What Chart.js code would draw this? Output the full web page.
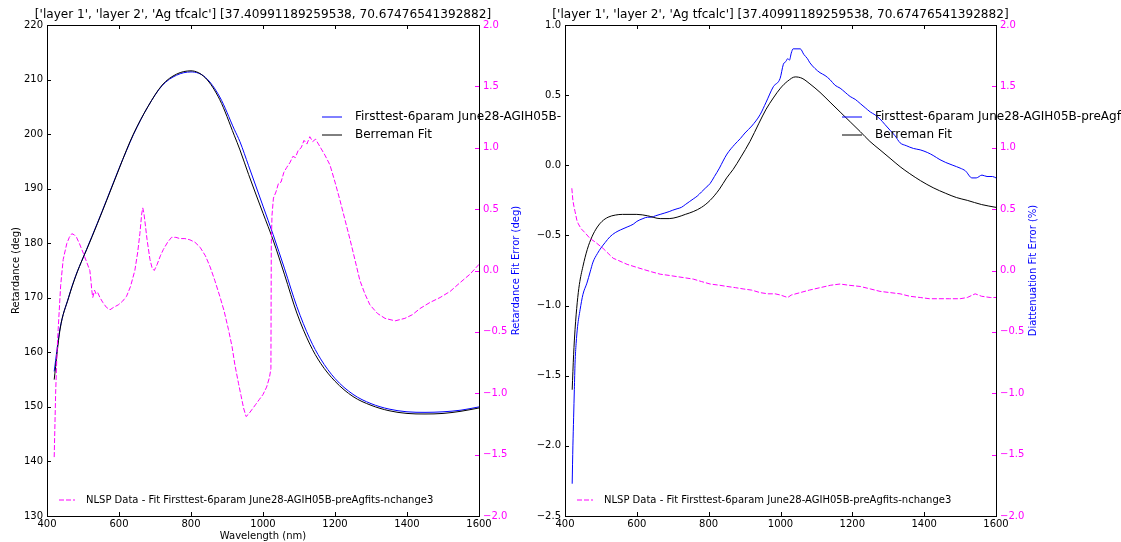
<!DOCTYPE html>
<html>
<head>
<meta charset="utf-8">
<script src="https://cdn.jsdelivr.net/npm/chart.js"></script>
<style>
  body { margin: 0; background: #fff; }
  #wrap { position: relative; width: 1121px; height: 542px; background: #fff; overflow: hidden; }
  canvas { position: absolute; top: 0; }
</style>
</head>
<body>
<div id="wrap">
  <canvas id="leftChart" width="562" height="542" style="left:0px"></canvas>
  <canvas id="rightChart" width="601" height="542" style="left:520px"></canvas>
</div>
<script>
// ---- data ----
const titleText = "['layer 1', 'layer 2', 'Ag tfcalc'] [37.40991189259538, 70.67476541392882]";
const dataLabelL = "Firsttest-6param June28-AGIH05B-preAgfits-nchange3";
const dataLabelR = "Firsttest-6param June28-AGIH05B-preAgfits-nchange3";
const fitLabel = "Berreman Fit";
const errLabel = "NLSP Data - Fit Firsttest-6param June28-AGIH05B-preAgfits-nchange3";

const xTicks = [400, 600, 800, 1000, 1200, 1400, 1600];

// left: retardance (deg)
const retWl = [420, 436, 460, 480, 500, 510, 540, 566, 600, 621, 640, 680, 720, 760, 800, 840, 880, 920, 936, 960, 1000, 1028, 1060, 1094, 1130, 1160, 1200, 1250, 1300, 1350, 1400, 1450, 1500, 1550, 1600];
const retFit = [155.0, 164.1, 170.0, 174.0, 177.3, 178.8, 183.6, 187.9, 193.6, 197.1, 200.0, 205.0, 209.0, 211.0, 211.6, 210.3, 206.3, 199.8, 197.1, 192.6, 185.5, 180.6, 174.2, 167.2, 161.5, 158.0, 154.7, 151.9, 150.3, 149.3, 148.8, 148.7, 148.8, 149.2, 149.8];
const retData = [156.5, 164.3, 170.1, 174.1, 177.3, 178.9, 183.7, 188.0, 193.7, 197.0, 199.9, 205.0, 208.9, 210.8, 211.4, 210.4, 206.8, 200.9, 198.6, 194.2, 186.8, 181.6, 175.3, 168.4, 162.5, 158.8, 155.2, 152.3, 150.6, 149.6, 149.1, 149.0, 149.1, 149.4, 150.0];

const retErrWl = [420, 424, 428, 431, 438, 445, 455, 462, 469, 476, 482, 490, 501, 510, 519, 522, 524, 527, 529, 532, 536, 541, 547, 555, 565, 575, 585, 598, 610, 621, 632, 644, 652, 658, 663, 666, 669, 672, 678, 686, 692, 698, 706, 715, 723, 735, 746, 758, 769, 783, 797, 811, 825, 840, 853, 866, 880, 892, 904, 914, 922, 932, 939, 946, 953, 960, 970, 980, 990, 1000, 1010, 1018, 1022, 1023, 1025, 1029, 1036, 1043, 1050, 1058, 1066, 1075, 1083, 1090, 1098, 1106, 1114, 1122, 1130, 1138, 1146, 1154, 1162, 1172, 1186, 1200, 1214, 1228, 1242, 1256, 1269, 1283, 1297, 1318, 1339, 1367, 1394, 1415, 1436, 1464, 1492, 1520, 1547, 1575, 1600];
const retErr = [-1.52, -1.0, -0.65, -0.48, -0.12, 0.09, 0.22, 0.27, 0.30, 0.29, 0.27, 0.22, 0.14, 0.07, 0.0, -0.08, -0.15, -0.22, -0.20, -0.16, -0.19, -0.18, -0.22, -0.26, -0.30, -0.32, -0.30, -0.28, -0.25, -0.21, -0.13, 0.0, 0.15, 0.30, 0.46, 0.51, 0.47, 0.40, 0.25, 0.09, 0.02, 0.0, 0.05, 0.12, 0.17, 0.23, 0.27, 0.27, 0.26, 0.26, 0.25, 0.23, 0.19, 0.12, 0.03, -0.08, -0.21, -0.33, -0.48, -0.62, -0.77, -0.92, -1.02, -1.12, -1.19, -1.17, -1.13, -1.09, -1.05, -1.01, -0.95, -0.87, -0.80, 0.20, 0.45, 0.59, 0.64, 0.71, 0.72, 0.80, 0.84, 0.88, 0.93, 0.92, 0.98, 1.00, 1.06, 1.03, 1.09, 1.05, 1.07, 1.03, 0.99, 0.94, 0.86, 0.72, 0.57, 0.41, 0.25, 0.08, -0.08, -0.19, -0.28, -0.35, -0.39, -0.41, -0.39, -0.36, -0.31, -0.26, -0.22, -0.17, -0.10, -0.03, 0.05];

// right: diattenuation
const diaWl = [420, 422, 424, 426, 428, 431, 435, 442, 450, 461, 470, 478, 490, 500, 512, 525, 540, 555, 573, 590, 600, 617, 630, 640, 652, 665, 678, 690, 700, 712, 724, 735, 746, 757, 768, 780, 792, 804, 816, 830, 840, 851, 873, 888, 901, 920, 943, 960, 980, 999, 1008, 1015, 1020, 1025, 1030, 1035, 1055, 1065, 1075, 1082, 1096, 1110, 1124, 1138, 1152, 1166, 1180, 1194, 1208, 1222, 1236, 1250, 1263, 1277, 1291, 1305, 1319, 1333, 1350, 1370, 1389, 1410, 1425, 1444, 1460, 1480, 1500, 1515, 1533, 1545, 1561, 1575, 1590, 1600];
const diaData = [-2.27, -2.0, -1.80, -1.6, -1.41, -1.27, -1.15, -1.03, -0.92, -0.84, -0.76, -0.69, -0.63, -0.59, -0.55, -0.51, -0.48, -0.46, -0.44, -0.42, -0.40, -0.38, -0.37, -0.37, -0.36, -0.35, -0.34, -0.33, -0.32, -0.31, -0.30, -0.28, -0.26, -0.24, -0.22, -0.19, -0.16, -0.13, -0.08, -0.02, 0.03, 0.08, 0.15, 0.19, 0.23, 0.28, 0.36, 0.45, 0.56, 0.62, 0.72, 0.74, 0.76, 0.75, 0.80, 0.83, 0.83, 0.79, 0.76, 0.73, 0.69, 0.66, 0.64, 0.61, 0.57, 0.55, 0.52, 0.49, 0.47, 0.44, 0.41, 0.38, 0.36, 0.33, 0.29, 0.25, 0.21, 0.16, 0.14, 0.12, 0.11, 0.09, 0.07, 0.04, 0.02, 0.00, -0.02, -0.04, -0.09, -0.09, -0.07, -0.08, -0.08, -0.09];

const diaFitWl = [420, 424, 428, 434, 440, 450, 462, 475, 490, 503, 520, 540, 560, 600, 630, 665, 690, 712, 735, 757, 780, 804, 830, 850, 868, 890, 915, 940, 960, 980, 1000, 1020, 1041, 1060, 1082, 1110, 1138, 1166, 1194, 1222, 1249, 1277, 1305, 1333, 1360, 1390, 1425, 1460, 1490, 1520, 1560, 1600];
const diaFit = [-1.60, -1.35, -1.17, -0.98, -0.85, -0.72, -0.60, -0.51, -0.44, -0.40, -0.37, -0.355, -0.35, -0.35, -0.36, -0.38, -0.38, -0.37, -0.35, -0.33, -0.30, -0.25, -0.17, -0.09, -0.03, 0.06, 0.17, 0.30, 0.40, 0.48, 0.55, 0.60, 0.63, 0.62, 0.58, 0.52, 0.45, 0.38, 0.31, 0.24, 0.17, 0.11, 0.05, -0.01, -0.06, -0.11, -0.16, -0.20, -0.23, -0.25, -0.28, -0.30];

const diaErrWl = [419, 422, 425, 428, 433, 437, 445, 455, 470, 485, 506, 520, 534, 550, 573, 595, 617, 640, 665, 690, 712, 735, 757, 780, 804, 830, 851, 875, 896, 920, 943, 965, 985, 1000, 1010, 1020, 1030, 1055, 1080, 1110, 1140, 1166, 1190, 1222, 1250, 1277, 1305, 1333, 1360, 1389, 1415, 1444, 1470, 1500, 1520, 1542, 1560, 1584, 1600];
const diaErr = [0.67, 0.57, 0.52, 0.48, 0.41, 0.38, 0.34, 0.31, 0.26, 0.23, 0.18, 0.14, 0.10, 0.08, 0.05, 0.03, 0.01, -0.01, -0.03, -0.04, -0.05, -0.06, -0.07, -0.09, -0.11, -0.12, -0.13, -0.14, -0.15, -0.16, -0.18, -0.19, -0.19, -0.20, -0.21, -0.22, -0.20, -0.18, -0.16, -0.14, -0.12, -0.11, -0.12, -0.13, -0.15, -0.17, -0.18, -0.19, -0.21, -0.22, -0.23, -0.23, -0.23, -0.23, -0.22, -0.19, -0.21, -0.22, -0.22];

const BLUE = "#0000ff";
const MAGENTA = "#ff00ff";
const FONT = '"DejaVu Sans", sans-serif';

Chart.defaults.font.family = FONT;
Chart.defaults.font.size = 10;
Chart.defaults.color = "#000";

function pts(xs, ys) {
  return xs.map((x, i) => ({ x: x, y: ys[i] }));
}

function fmt1(v) {
  if (Math.abs(v) < 1e-9) v = 0;
  return v.toFixed(1).replace("-", "\u2212");
}

// frame, inward ticks, titles and legends drawn like matplotlib
const decor = {
  id: "decor",
  afterDraw(chart, args, o) {
    const ctx = chart.ctx;
    const a = chart.chartArea;
    const s = chart.scales;
    ctx.save();
    ctx.lineWidth = 1;

    const line = (x1, y1, x2, y2, color) => {
      ctx.strokeStyle = color;
      ctx.beginPath();
      ctx.moveTo(x1, y1);
      ctx.lineTo(x2, y2);
      ctx.stroke();
    };
    // ticks
    s.x.ticks.forEach((t) => {
      const x = Math.round(s.x.getPixelForValue(t.value)) + 0.5;
      line(x, a.top, x, a.top + 4, "#000");
      line(x, a.bottom, x, a.bottom - 4, "#000");
    });
    s.y.ticks.forEach((t) => {
      const y = Math.round(s.y.getPixelForValue(t.value)) + 0.5;
      line(a.left, y, a.left + 4, y, "#000");
    });
    s.y2.ticks.forEach((t) => {
      const y = Math.round(s.y2.getPixelForValue(t.value)) + 0.5;
      line(a.right, y, a.right - 4, y, MAGENTA);
    });
    // frame
    ctx.strokeStyle = "#000";
    ctx.strokeRect(a.left + 0.5, a.top + 0.5, a.right - a.left, a.bottom - a.top);

    // title
    ctx.fillStyle = "#000";
    ctx.font = "12.1px " + FONT;
    ctx.textAlign = "center";
    ctx.textBaseline = "middle";
    ctx.fillText(o.title, (a.left + a.right) / 2, 15);

    // axis titles
    ctx.font = "10px " + FONT;
    const cy = (a.top + a.bottom) / 2;
    (o.yTitles || []).forEach((t) => {
      ctx.save();
      ctx.translate(t.x, cy);
      ctx.rotate(-Math.PI / 2);
      ctx.fillStyle = t.color;
      ctx.fillText(t.text, 0, 0);
      ctx.restore();
    });
    if (o.xTitle) {
      ctx.fillStyle = "#000";
      ctx.fillText(o.xTitle, (a.left + a.right) / 2, 536);
    }

    // legends
    ctx.textAlign = "left";
    (o.legend || []).forEach((e) => {
      ctx.setLineDash(e.dash || []);
      line(e.x, e.y, e.x + e.len, e.y, e.color);
      ctx.setLineDash([]);
      ctx.fillStyle = "#000";
      ctx.font = e.size + "px " + FONT;
      ctx.fillText(e.text, e.x + e.len + e.gap, e.y);
    });
    ctx.restore();
  },
};

function makeChart(id, cfg) {
  return new Chart(document.getElementById(id), {
    type: "line",
    data: {
      datasets: [
        { data: cfg.err, yAxisID: "y2", borderColor: MAGENTA, borderDash: [5, 2] },
        { data: cfg.fit, yAxisID: "y", borderColor: "#000", cubicInterpolationMode: "monotone" },
        { data: cfg.meas, yAxisID: "y", borderColor: BLUE, cubicInterpolationMode: "monotone" },
      ],
    },
    options: {
      responsive: false,
      animation: false,
      layout: { padding: { top: 25, left: 0, right: 0, bottom: 0 } },
      elements: {
        point: { radius: 0 },
        line: { borderWidth: 1, tension: 0, fill: false },
      },
      plugins: {
        legend: { display: false },
        tooltip: { enabled: false },
        decor: cfg.decor,
      },
      scales: {
        x: {
          type: "linear",
          min: 400,
          max: 1600,
          afterBuildTicks: (sc) => { sc.ticks = xTicks.map((v) => ({ value: v })); },
          ticks: { autoSkip: false, maxRotation: 0, padding: 2, color: "#000", callback: (v) => String(v) },
          grid: { display: false, drawTicks: false },
          border: { display: false },
          afterFit: (sc) => { sc.height = 26; },
        },
        y: {
          position: "left",
          min: cfg.yMin,
          max: cfg.yMax,
          ticks: { stepSize: cfg.yStep, padding: 4, color: "#000", callback: cfg.yFmt },
          grid: { display: false, drawTicks: false },
          border: { display: false },
          afterFit: (sc) => { sc.width = cfg.leftW; },
        },
        y2: {
          position: "right",
          min: -2,
          max: 2,
          ticks: { stepSize: 0.5, padding: 4, color: MAGENTA, callback: (v) => fmt1(v) },
          grid: { display: false, drawTicks: false },
          border: { display: false },
          afterFit: (sc) => { sc.width = cfg.rightW; },
        },
      },
    },
    plugins: [decor],
  });
}

makeChart("leftChart", {
  meas: pts(retWl, retData),
  fit: pts(retWl, retFit),
  err: pts(retErrWl, retErr),
  yMin: 130, yMax: 220, yStep: 10,
  yFmt: (v) => String(v),
  leftW: 47, rightW: 83,
  decor: {
    title: titleText,
    yTitles: [
      { text: "Retardance (deg)", x: 16, color: "#000" },
      { text: "Retardance Fit Error (deg)", x: 516, color: BLUE },
    ],
    xTitle: "Wavelength (nm)",
    legend: [
      { text: dataLabelL, color: BLUE, x: 322, y: 117, len: 20, gap: 13, size: 12 },
      { text: fitLabel, color: "#000", x: 322, y: 135, len: 20, gap: 13, size: 12 },
      { text: errLabel, color: MAGENTA, dash: [5, 2], x: 59, y: 500, len: 16, gap: 11, size: 10 },
    ],
  },
});

makeChart("rightChart", {
  meas: pts(diaWl, diaData),
  fit: pts(diaFitWl, diaFit),
  err: pts(diaErrWl, diaErr),
  yMin: -2.5, yMax: 1.0, yStep: 0.5,
  yFmt: (v) => fmt1(v),
  leftW: 45, rightW: 125,
  decor: {
    title: titleText,
    yTitles: [
      { text: "Diattenuation Fit Error (%)", x: 513, color: BLUE },
    ],
    legend: [
      { text: dataLabelR, color: BLUE, x: 322, y: 117, len: 20, gap: 13, size: 12 },
      { text: fitLabel, color: "#000", x: 322, y: 135, len: 20, gap: 13, size: 12 },
      { text: errLabel, color: MAGENTA, dash: [5, 2], x: 57, y: 500, len: 16, gap: 11, size: 10 },
    ],
  },
});
</script>
</body>
</html>
